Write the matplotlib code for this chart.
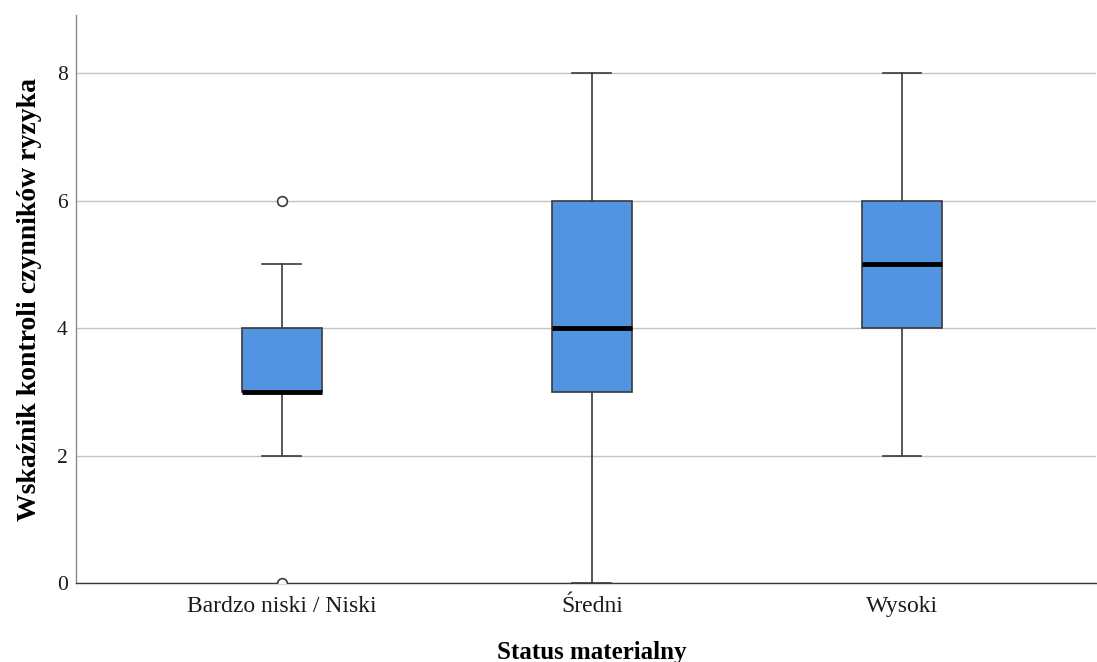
import matplotlib
matplotlib.use("Agg")
import matplotlib.pyplot as plt

# Summary statistics per group (five-number summary + outliers)
categories = ["Bardzo niski / Niski", "Średni", "Wysoki"]
whisker_low = [2, 0, 2]
q1 = [3, 3, 4]
median = [3, 4, 5]
q3 = [4, 6, 6]
whisker_high = [5, 8, 8]
outliers = [[6, 0], [], []]

plt.rcParams["font.family"] = ["Liberation Serif", "DejaVu Serif"]

fig = plt.figure(figsize=(10.97, 6.62), dpi=100)
ax = fig.add_axes([76 / 1097, 1 - 583 / 662, 1 - 76 / 1097 - 0.001, (583 - 15) / 662])

stats = []
for i, name in enumerate(categories):
    stats.append({
        "label": name,
        "whislo": whisker_low[i],
        "q1": q1[i],
        "med": median[i],
        "q3": q3[i],
        "whishi": whisker_high[i],
        "fliers": outliers[i],
    })

ax.bxp(
    stats,
    positions=range(len(categories)),
    widths=0.258,
    patch_artist=True,
    showfliers=True,
    boxprops=dict(facecolor="#5294e2", edgecolor="#3a3a3a", linewidth=1.2),
    medianprops=dict(color="black", linewidth=3.5),
    whiskerprops=dict(color="#3a3a3a", linewidth=1.2),
    capprops=dict(color="#3a3a3a", linewidth=1.2),
    capwidths=0.125,
    flierprops=dict(marker="o", markersize=7, markerfacecolor="white",
                    markeredgecolor="#3a3a3a", markeredgewidth=1.2),
    zorder=3,
)

ax.set_xlim(-0.663, 2.625)
ax.set_ylim(0, 8.91)
ax.set_yticks([0, 2, 4, 6, 8])
ax.yaxis.grid(True, color="#c4c4c4", linewidth=1.0)
ax.set_axisbelow(True)

for side in ("top", "right"):
    ax.spines[side].set_visible(False)
ax.spines["left"].set_color("#8a8a8a")
ax.spines["bottom"].set_color("#3a3a3a")
ax.spines["left"].set_linewidth(1.0)
ax.spines["bottom"].set_linewidth(1.0)

ax.tick_params(axis="both", length=0, colors="#1a1a1a")
ax.tick_params(axis="y", pad=6, labelsize=15.5)
ax.tick_params(axis="x", pad=9.5, labelsize=17)
ax.set_xticks(range(len(categories)))
ax.set_xticklabels(categories)

ax.set_xlabel("Status materialny", fontsize=18, fontweight="bold", labelpad=17.5, x=0.506)
ax.set_ylabel("Wskaźnik kontroli czynników ryzyka", fontsize=20, fontweight="bold", labelpad=11)

fig.savefig("out.png", dpi=100)
